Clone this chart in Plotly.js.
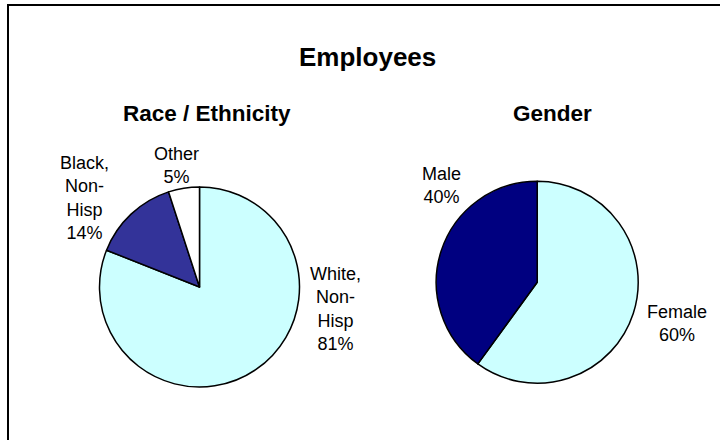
<!DOCTYPE html>
<html>
<head>
<meta charset="utf-8">
<script src="https://cdn.plot.ly/plotly-3.0.1.min.js"></script>
<style>html,body{margin:0;padding:0;background:#fff;}#chart{width:720px;height:440px;}</style>
</head>
<body>
<div id="chart"></div>
<script>
// ---- data ----
var chartTitle = "Employees";
var raceTitle = "Race / Ethnicity";
var raceLabels = ["White, Non-Hisp", "Black, Non-Hisp", "Other"];
var raceValues = [81, 14, 5];
var genderTitle = "Gender";
var genderLabels = ["Female", "Male"];
var genderValues = [60, 40];

// ---- styling / layout ----
var W = 720, H = 440;
var FONT = "Liberation Sans, Arial, sans-serif";
var raceColors = ["#CCFFFF", "#333399", "#FFFFFF"];
var genderColors = ["#CCFFFF", "#000080"];
function px(x){ return x / W; }
function py(y){ return 1 - y / H; }
function dom(cx, cy, r){ return {x:[px(cx - r), px(cx + r)], y:[py(cy + r), py(cy - r)]}; }

// label positions (pixels, block centres) in data order
var raceLabelPos = [[335, 309], [84.5, 198.4], [176.7, 165]];
var genderLabelPos = [[676.5, 323.2], [441.7, 185.7]];

function pctText(vals){
  var s = vals.reduce(function(a,b){return a+b;}, 0);
  return vals.map(function(v){ return Math.round(v / s * 100) + "%"; });
}
function wrapLabel(l){ return l.replace(/ /g, "<br>").replace(/-/g, "-<br>"); }

var traces = [
  {type:"pie", labels:raceLabels, values:raceValues, sort:false, direction:"clockwise", rotation:0,
   marker:{colors:raceColors, line:{color:"#000", width:1.5}}, textinfo:"none", hoverinfo:"none",
   domain:dom(199.5, 287, 100)},
  {type:"pie", labels:genderLabels, values:genderValues, sort:false, direction:"clockwise", rotation:0,
   marker:{colors:genderColors, line:{color:"#000", width:1.5}}, textinfo:"none", hoverinfo:"none",
   domain:dom(537.2, 282.2, 101)}
];

var ann = [];
function addText(text, x, y, size, bold){
  ann.push({text: bold ? "<b>" + text + "</b>" : text, x:px(x), y:py(y), xref:"paper", yref:"paper",
    xanchor:"center", yanchor:"middle", showarrow:false, align:"center",
    font:{family:FONT, size:size, color:"#000"}});
}
addText(chartTitle, 367.7, 57, 26, true);
addText(raceTitle, 207.5, 114, 22.5, true);
addText(genderTitle, 552, 114, 22.5, true);
var rp = pctText(raceValues);
raceLabels.forEach(function(l, i){ addText(wrapLabel(l) + "<br>" + rp[i], raceLabelPos[i][0], raceLabelPos[i][1], 18, false); });
var gp = pctText(genderValues);
genderLabels.forEach(function(l, i){ addText(l + "<br>" + gp[i], genderLabelPos[i][0], genderLabelPos[i][1], 18, false); });

var layout = {
  width:W, height:H, margin:{l:0, r:0, t:0, b:0}, showlegend:false,
  paper_bgcolor:"#fff", plot_bgcolor:"#fff", font:{family:FONT},
  annotations: ann,
  shapes: [
    {type:"line", xref:"paper", yref:"paper", x0:px(8), x1:px(8), y0:py(440), y1:py(4), line:{color:"#000", width:2}},
    {type:"line", xref:"paper", yref:"paper", x0:px(7), x1:px(720), y0:py(5), y1:py(5), line:{color:"#000", width:2}}
  ]
};
Plotly.newPlot("chart", traces, layout, {displayModeBar:false, staticPlot:true});
</script>
</body>
</html>
